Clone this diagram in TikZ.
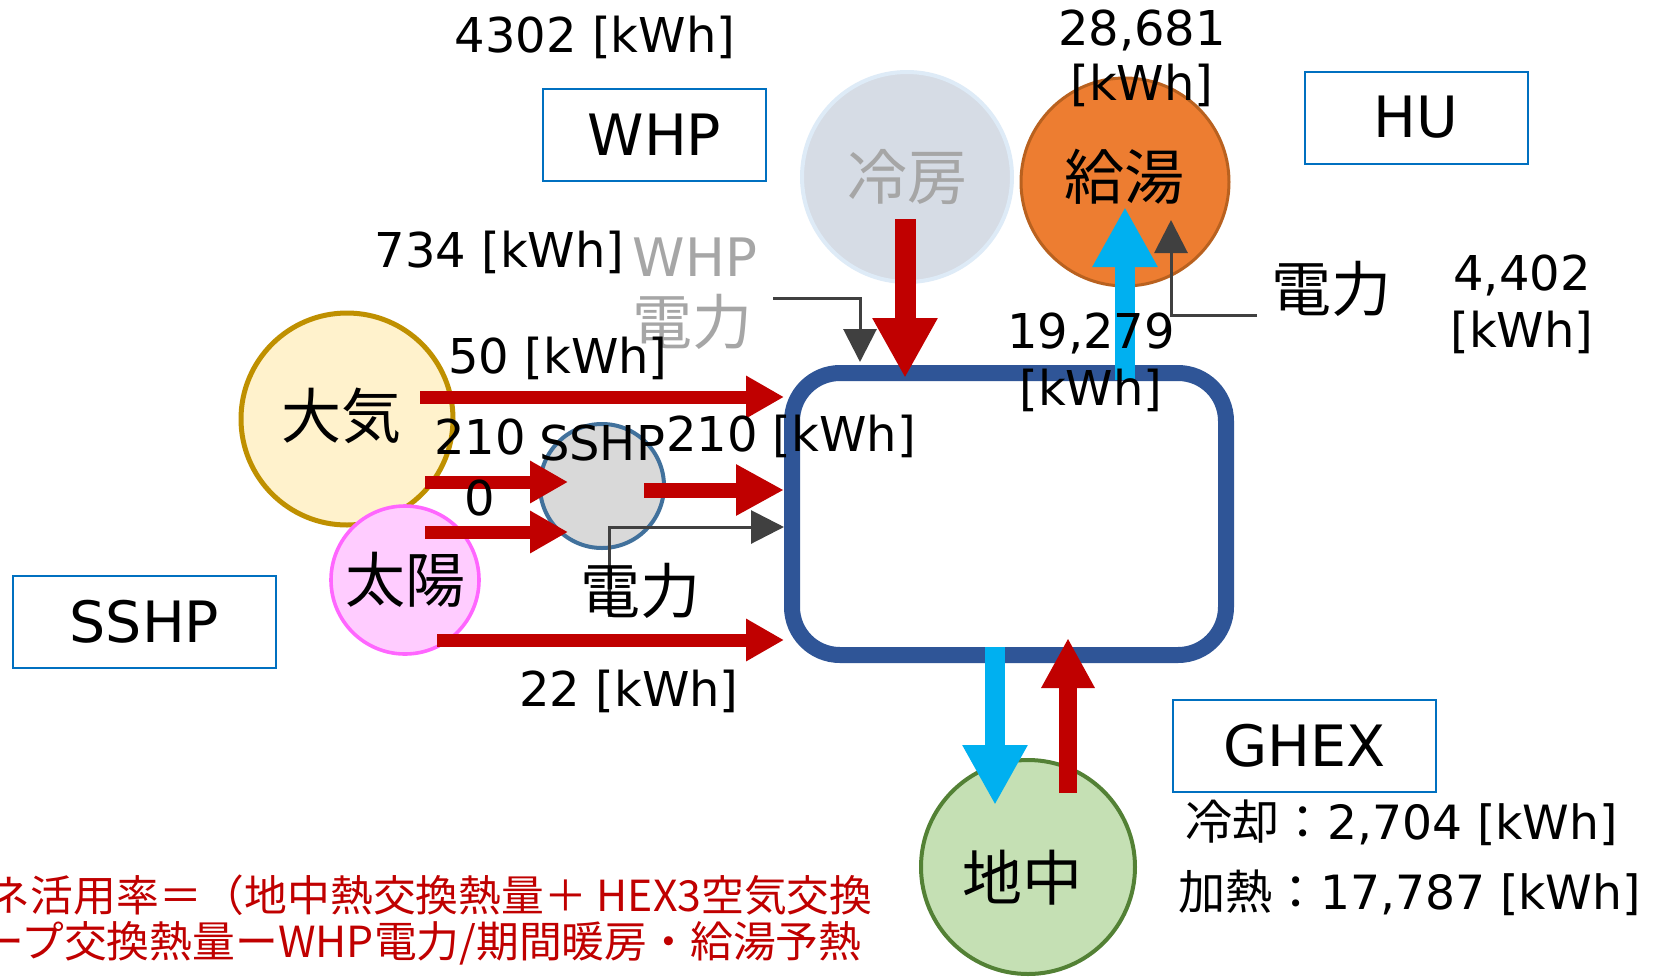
\documentclass[tikz,border=0pt]{standalone}
\usepackage{fontspec}
\setmainfont{DejaVu Sans}
\newfontfamily\jp{Noto Sans CJK JP}
\usetikzlibrary{arrows.meta}
\definecolor{arrred}{HTML}{C00000}
\definecolor{arrblue}{HTML}{00B0F0}
\definecolor{hubblue}{HTML}{2F5597}
\definecolor{boxblue}{HTML}{0070C0}
\definecolor{connGray}{HTML}{404040}
\definecolor{txtgray}{HTML}{A6A6A6}
\definecolor{coolfill}{HTML}{D6DCE5}
\definecolor{coolline}{HTML}{DEEBF7}
\definecolor{hotfill}{HTML}{ED7D31}
\definecolor{hotline}{HTML}{B9611F}
\definecolor{airfill}{HTML}{FFF2CC}
\definecolor{airline}{HTML}{BF9000}
\definecolor{sunfill}{HTML}{FFCCFF}
\definecolor{sunline}{HTML}{FF66FF}
\definecolor{hpfill}{HTML}{D9D9D9}
\definecolor{hpline}{HTML}{41719C}
\definecolor{gndfill}{HTML}{C5E0B4}
\definecolor{gndline}{HTML}{538135}
\tikzset{
  lbl/.style={inner sep=0pt, font=\fontsize{24}{28}\selectfont},
  jlbl/.style={inner sep=0pt, font=\jp\fontsize{30}{36}\selectfont},
  tbox/.style={draw=boxblue, line width=1pt, minimum width=131.5pt, minimum height=46pt, inner sep=0pt, font=\fontsize{28.5}{34}\selectfont},
  sbox/.style={tbox, minimum width=111.5pt},
  circ/.style={circle, inner sep=0pt, font=\jp\fontsize{30}{36}\selectfont},
  hubbox/.style={draw=hubblue, line width=8pt, rounded corners=24pt, minimum width=217pt, minimum height=141pt, inner sep=0pt},
  thinred/.style={draw=arrred, line width=6.5pt, -{Triangle[width=20pt,length=19pt]}},
  midred/.style={draw=arrred, line width=7.5pt, -{Triangle[width=24pt,length=24pt]}},
  bigred/.style={draw=arrred, line width=10.5pt, -{Triangle[width=30.5pt,length=30pt]}},
  gred/.style={draw=arrred, line width=9pt, -{Triangle[width=25pt,length=25pt]}},
  bluearr/.style={draw=arrblue, line width=10pt, -{Triangle[width=30.5pt,length=30pt]}},
  grayconn/.style={draw=connGray, line width=1.5pt, -{Triangle[width=16.5pt,length=16.5pt]}},
  redtext/.style={inner sep=0pt, text=arrred, font=\jp\fontsize{21.4}{24}\selectfont}
}
\begin{document}
\begin{tikzpicture}[x=0.5pt,y=-0.5pt]
\clip (0,0) rectangle (1661,976);
\fill[white] (0,0) rectangle (1661,976);

% circles
\node[circ, minimum size=105pt, fill=coolfill, draw=coolline, line width=2pt, text=txtgray] (cool) at (907,177) {冷房};
\node[circ, minimum size=104pt, fill=hotfill, draw=hotline, line width=1.5pt] (hot) at (1125,182) {};
\node[jlbl] (hotlbl) at (1124,177) {給湯};
\node[circ, minimum size=106pt, fill=airfill, draw=airline, line width=2.5pt] (air) at (347,419) {};
\node[jlbl] (airlbl) at (341,416) {大気};
\node[circ, minimum size=74pt, fill=sunfill, draw=sunline, line width=1.8pt] (sun) at (405,580) {太陽};
\node[circ, minimum size=62pt, fill=hpfill, draw=hpline, line width=2pt] (sshp) at (602,486) {};
\node[circ, minimum size=107pt, fill=gndfill, draw=gndline, line width=2pt] (gnd) at (1028,867) {};
\node[jlbl] (gndlbl) at (1022,878) {地中};

% hub
\node[hubbox] (hub) at (1009,514) {};

% label boxes
\node[sbox] (whpbox) at (654.5,134.5) {WHP};
\node[sbox] (hubox) at (1416,117.5) {HU};
\node[tbox] (sshpbox) at (144.5,622) {SSHP};
\node[tbox] (ghexbox) at (1304.5,746) {GHEX};

% arrow coordinates
\coordinate (r1s) at (420,397);
\coordinate (r2s) at (425,482);
\coordinate (r2e) at (568,482);
\coordinate (r3s) at (425,532);
\coordinate (r3e) at (568,532);
\coordinate (r4s) at (644,490);
\coordinate (r5s) at (437,640);
\coordinate (cs) at (905,219);
\coordinate (ce) at (905,378);
\coordinate (gus) at (1068,793);
\coordinate (gue) at (1068,638);
\coordinate (bds) at (995,647);
\coordinate (bde) at (995,805);
\coordinate (bus) at (1125,380);
\coordinate (bue) at (1125,207);
\coordinate (g1s) at (773,298);
\coordinate (g1e) at (860,362);
\coordinate (g2s) at (1257,315);
\coordinate (g2e) at (1171,220);
\coordinate (g3s) at (609,617);

% red arrows
\draw[thinred] (r1s) -- (hub.west |- r1s);
\draw[thinred] (r2s) -- (r2e);
\draw[thinred] (r3s) -- (r3e);
\draw[midred] (r4s) -- (hub.west |- r4s);
\draw[thinred] (r5s) -- (hub.west |- r5s);
\draw[bigred] (cs) -- (ce);
\draw[gred] (gus) -- (gue);
\draw[bluearr] (bds) -- (bde);
\draw[bluearr] (bus) -- (bue);

% gray connectors
\draw[grayconn] (g1s) -| (g1e);
\draw[grayconn] (g2s) -| (g2e);
\draw[grayconn] (g3s) |- (hub.west |- 0,527);

% labels
\node[lbl] (t4302) at (595,37) {4302 [kWh]};
\node[lbl, anchor=east] (t734) at (625,252) {734 [kWh]};
\node[inner sep=0pt, text=txtgray, font=\fontsize{26.5}{30}\selectfont] (twhp) at (695,257) {WHP};
\node[jlbl, text=txtgray] (twhpe) at (692,322) {電力};
\node[lbl] (t28681) at (1142,30) {28,681};
\node[lbl] (t28681u) at (1142,85) {[kWh]};
\node[jlbl] (thue) at (1331,289) {電力};
\node[lbl] (t4402) at (1522,275) {4,402};
\node[lbl] (t4402u) at (1522,332) {[kWh]};
\node[lbl] (t19279) at (1091,333) {19,279};
\node[lbl] (t19279u) at (1091,390) {[kWh]};
\node[lbl] (t50) at (558,358) {50 [kWh]};
\node[lbl] (t210a) at (480,437) {210};
\node[lbl] (tsshp) at (602,443) {SSHP};
\node[lbl] (t210b) at (791,436) {210 [kWh]};
\node[lbl] (t0) at (480,498) {0};
\node[jlbl] (tsshpe) at (640,591) {電力};
\node[lbl] (t22) at (629,691) {22 [kWh]};
\node[lbl, anchor=west, font=\fontsize{23.6}{28}\selectfont] (tcool) at (1185,823) {{\jp 冷却：}2,704 [kWh]};
\node[lbl, anchor=west, font=\fontsize{23.6}{28}\selectfont] (theat) at (1178,893) {{\jp 加熱：}17,787 [kWh]};
\node[redtext, anchor=east] (note1) at (873,895) {エネ活用率＝（地中熱交換熱量＋ HEX3空気交換};
\node[redtext, anchor=east] (note2) at (862,943) {ループ交換熱量ーWHP電力/期間暖房・給湯予熱};
\end{tikzpicture}
\end{document}
